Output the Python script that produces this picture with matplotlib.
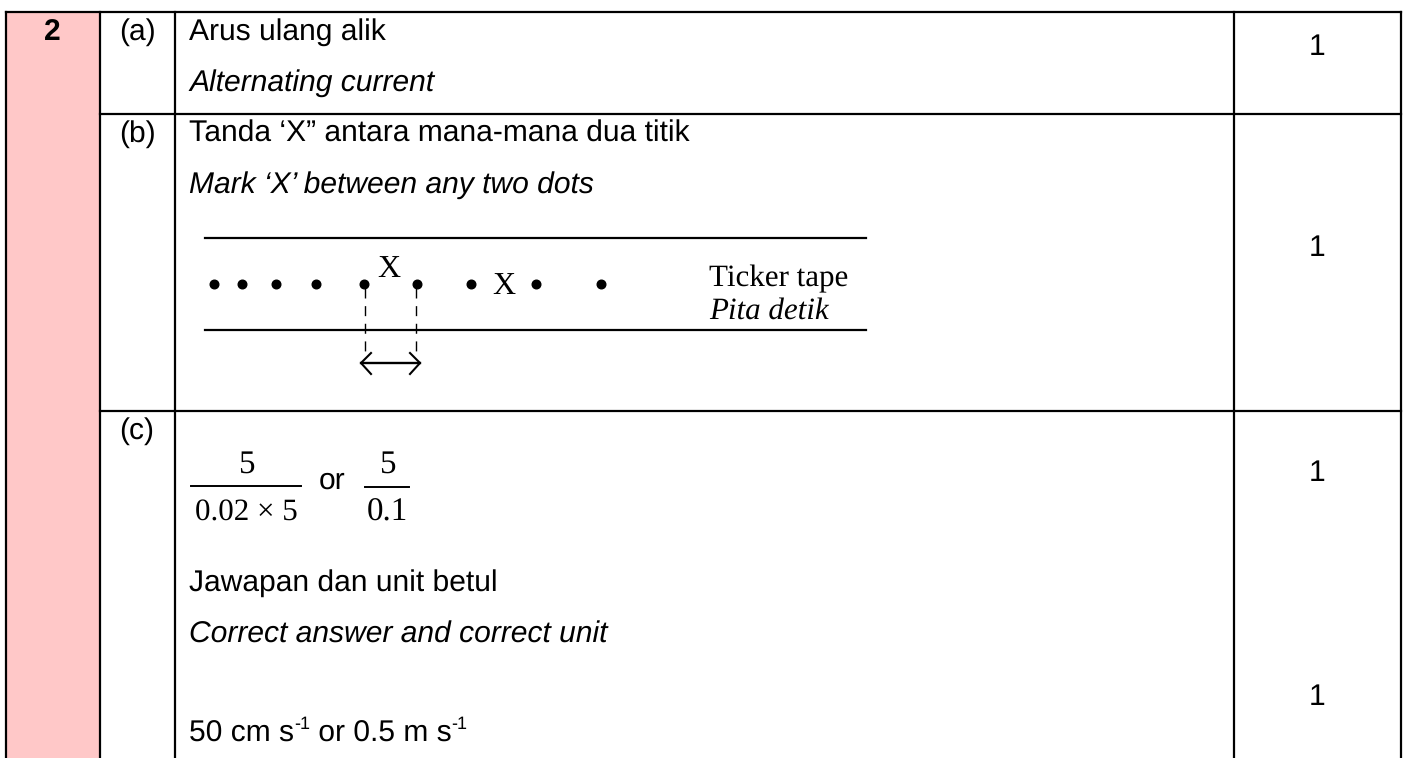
import matplotlib
matplotlib.use('Agg')
import matplotlib.pyplot as plt
from matplotlib.patches import Rectangle

plt.rcParams['text.hinting'] = 'no_hinting'
plt.rcParams['text.hinting_factor'] = 1

W, H = 1404, 758
SANS = 'Liberation Sans'
SERIF = 'Liberation Serif'

# table grid, pixels
col_x = [6, 100, 175, 1234, 1401]
table_top = 12
row_y = [114, 411]

question = '2'
parts = ['(a)', '(b)', '(c)']
parts_base = [40, 142, 439]

answers = ['Arus ulang alik', 'Tanda ‘X” antara mana-mana dua titik', 'Jawapan dan unit betul']
answers_base = [40, 142, 591]
answers_en = ['Alternating current', 'Mark ‘X’ between any two dots', 'Correct answer and correct unit']
answers_en_base = [91, 193, 643]

marks = ['1', '1', '1', '1']
marks_base = [55, 256, 481, 705]

# ticker tape dots
dots_x = [214, 242, 276, 316, 364, 417, 471, 536, 601]

fig = plt.figure(figsize=(W/100, H/100), dpi=100)
ax = fig.add_axes([0, 0, 1, 1])
ax.set_xlim(0, W)
ax.set_ylim(H, 0)
ax.axis('off')

ax.add_patch(Rectangle((col_x[0], table_top), col_x[1]-col_x[0], H-table_top, fc='#FFC8C8', ec='none'))

lw = 1.6
ax.plot([col_x[0], col_x[-1]], [table_top, table_top], color='k', lw=lw, solid_capstyle='projecting')
for x in col_x:
    ax.plot([x, x], [table_top, H], color='k', lw=lw)
for y in row_y:
    ax.plot([col_x[1], col_x[-1]], [y, y], color='k', lw=lw)

fs = 21.5
def label(x, y, s, **kw):
    kw.setdefault('family', SANS)
    kw.setdefault('fontsize', fs)
    return ax.text(x, y, s, va='baseline', color='k', **kw)

label(52, 40, question, weight='bold', ha='center')
for p, y in zip(parts, parts_base):
    label(137, y, p, ha='center')
for a, y in zip(answers, answers_base):
    label(189, y, a)
for a, y in zip(answers_en, answers_en_base):
    label(189, y, a, style='italic')
for m, y in zip(marks, marks_base):
    label(1317, y, m, ha='center')

# the last answer has superscripts
rend = fig.canvas.get_renderer()
x = 189
for s, sup in [('50 cm s', False), ('-1', True), ('\u00a0or 0.5 m s', False), ('-1', True)]:
    t = label(x, 729 if sup else 742, s, fontsize=13 if sup else fs)
    x = t.get_window_extent(rend).x1

# ticker tape
for y in [238, 330]:
    ax.plot([205, 866], [y, y], color='k', lw=1.6)
ax.plot(dots_x, [284]*len(dots_x), 'o', color='k', ms=6.2, ls='none')
for x in [365, 416]:
    ax.plot([x, x], [288, 353], color='k', lw=1.0, dashes=(7.2, 5.5))
ax.plot([361, 420], [363, 363], color='k', lw=1.7)
ax.plot([371, 361, 371], [353, 363, 374], color='k', lw=1.5)
ax.plot([410, 420, 410], [353, 363, 374], color='k', lw=1.5)
ax.text(389, 277, 'X', family=SERIF, fontsize=23, ha='center', va='baseline')
ax.text(504, 294, 'X', family=SERIF, fontsize=23, ha='center', va='baseline')
ax.text(709, 286, 'Ticker tape', family=SERIF, fontsize=22.5, va='baseline')
ax.text(709, 319, 'Pita detik', family=SERIF, fontsize=22.5, style='italic', va='baseline')

# fractions
ax.plot([191, 301], [486, 486], color='k', lw=1.4)
ax.plot([365, 409], [487, 487], color='k', lw=1.4)
ax.text(246, 473, '5', family=SERIF, fontsize=23.5, ha='center', va='baseline')
ax.text(387, 473, '5', family=SERIF, fontsize=23.5, ha='center', va='baseline')
ax.text(246, 521, '0.02 × 5', family=SERIF, fontsize=22.3, ha='center', va='baseline')
ax.text(387, 521, '0.1', family=SERIF, fontsize=23.5, ha='center', va='baseline')
label(319, 489, 'or', ha='left')

fig.savefig('out.png', dpi=100)
